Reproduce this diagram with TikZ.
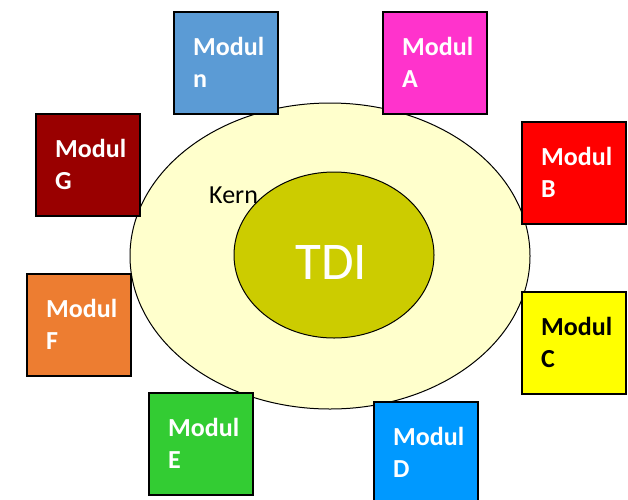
\documentclass[tikz,border=0pt]{standalone}
\usepackage{fontspec}
\setmainfont{Carlito}
\usetikzlibrary{calc,shapes.geometric}

\definecolor{kernfill}{HTML}{FFFFCC}
\definecolor{tdifill}{HTML}{CCCC00}
\definecolor{colN}{HTML}{5B9BD5}
\definecolor{colA}{HTML}{FF33CC}
\definecolor{colB}{HTML}{FF0000}
\definecolor{colC}{HTML}{FFFF00}
\definecolor{colD}{HTML}{0099FF}
\definecolor{colE}{HTML}{33CC33}
\definecolor{colF}{HTML}{ED7D31}
\definecolor{colG}{HTML}{990000}

\tikzset{
  modbox/.style={draw=black, line width=1.5pt, rectangle, inner sep=0pt,
    minimum width=104pt, minimum height=102pt, anchor=north west},
  modtext/.style={anchor=base west, align=left, inner sep=0pt,
    font=\fontsize{26}{32}\selectfont\bfseries},
  ring/.style={draw=black, line width=1pt, line join=round, ellipse, inner sep=0pt},
}

% one module box: #1 name, #2 fill, #3 text colour, #4 top-left corner, #5 letter
% (y axis points down; the base anchor sits on the second line's baseline)
\newcommand\modulebox[5]{%
  \node[modbox, fill=#2] (#1) at (#4) {};
  \node[modtext, text=#3] (#1t) at ($(#1.north west)+(20,76)$) {Modul\\#5};
}

\begin{document}
\begin{tikzpicture}[x=1pt, y=-1pt]
  \useasboundingbox (0,0) rectangle (628,499);

  % kernel ring
  \node[ring, fill=kernfill, minimum width=400pt, minimum height=306pt]
        (kern) at (330,256) {};
  \node[anchor=base west, inner sep=0pt, font=\fontsize{26}{30}\selectfont]
        (kernlabel) at (209,203) {Kern};

  % core
  \node[ring, fill=tdifill, minimum width=200pt, minimum height=166pt]
        (tdi) at (334,255) {};
  \node[anchor=base west, inner sep=0pt, text=white,
        font=\fontsize{53}{60}\selectfont] (tdilabel) at (295,279) {TDI};

  % modules around the kernel
  \modulebox{mn}{colN}{white}{173,11}{n}
  \modulebox{ma}{colA}{white}{382,11}{A}
  \modulebox{mb}{colB}{white}{521,121}{B}
  \modulebox{mc}{colC}{black}{521,291}{C}
  \modulebox{md}{colD}{white}{373,401}{D}
  \modulebox{me}{colE}{white}{148,392}{E}
  \modulebox{mf}{colF}{white}{26,273}{F}
  \modulebox{mg}{colG}{white}{35,113}{G}
\end{tikzpicture}
\end{document}
